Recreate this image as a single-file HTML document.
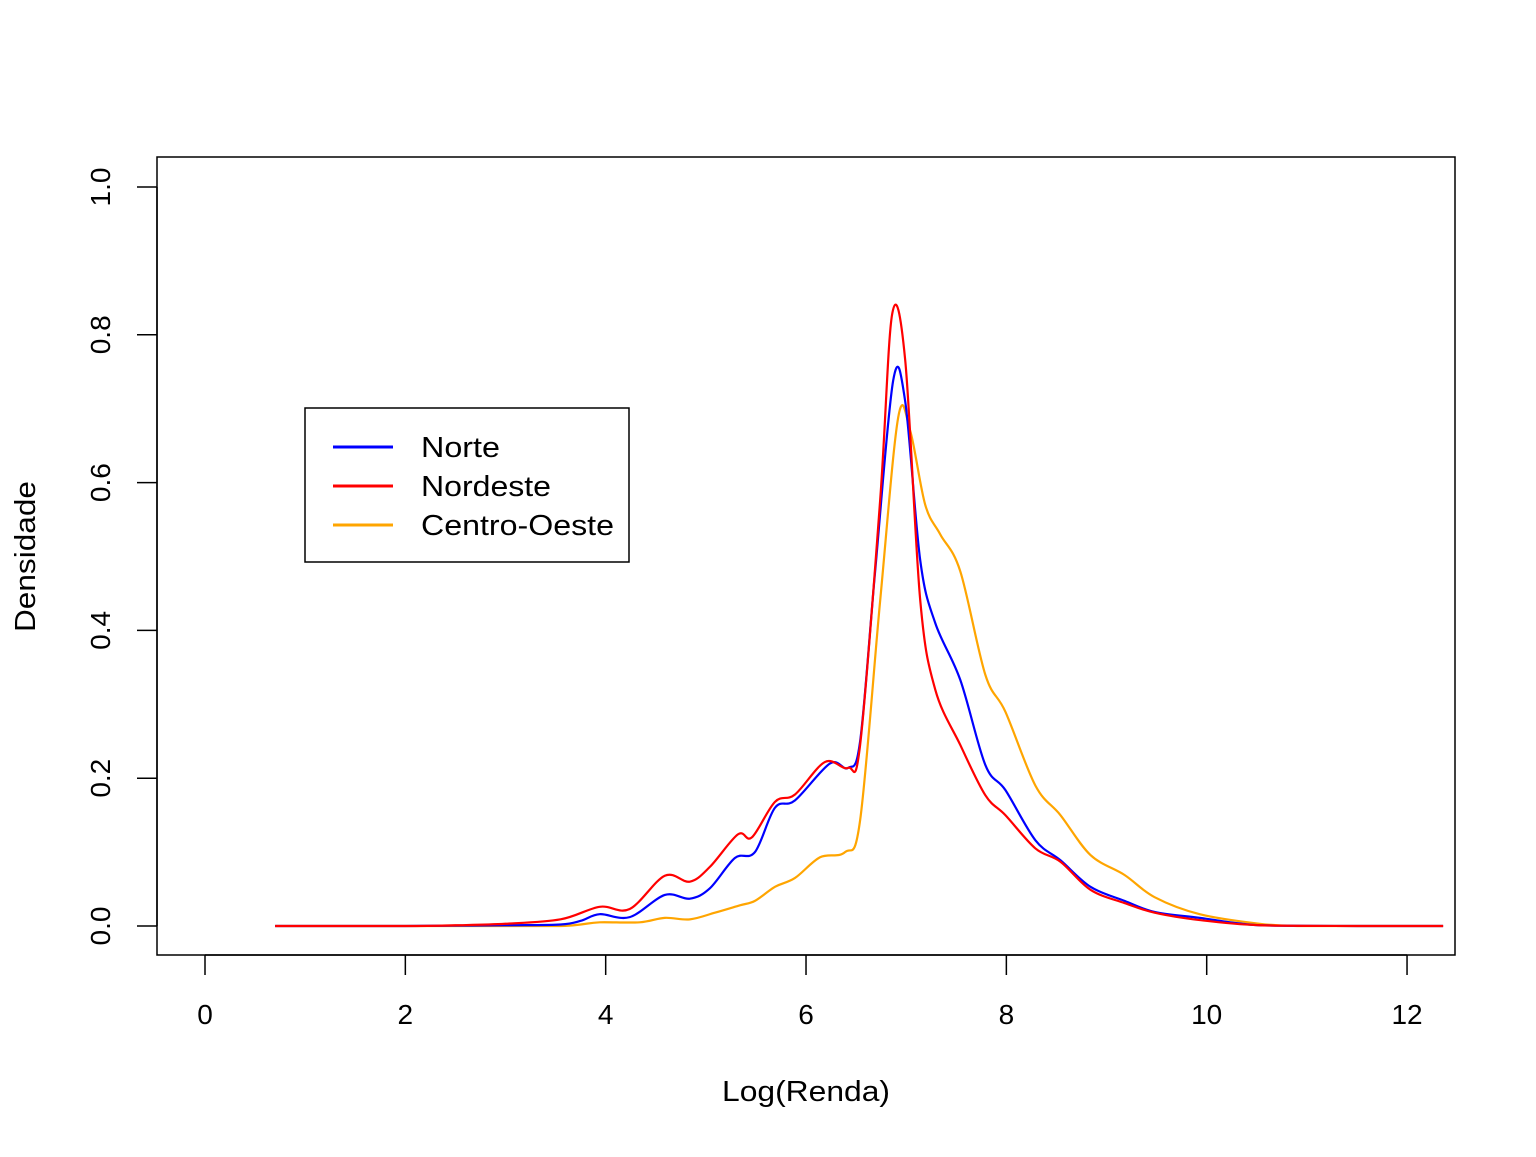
<!DOCTYPE html>
<html><head><meta charset="utf-8"><style>
body{margin:0;background:#fff}
svg text{font-family:"Liberation Sans",Arial,sans-serif;fill:#000}
</style></head><body>
<svg id="chart" width="1536" height="1152" viewBox="0 0 1536 1152" xmlns="http://www.w3.org/2000/svg">
<rect x="157" y="157" width="1298" height="798" fill="none" stroke="#000" stroke-width="1.5"/>
<g id="axes"></g>
<g id="series"></g>
<text x="722" y="1101" font-size="29" textLength="168" lengthAdjust="spacingAndGlyphs">Log(Renda)</text>
<text transform="translate(35,632) rotate(-90)" font-size="29" textLength="151" lengthAdjust="spacingAndGlyphs">Densidade</text>
<g>
<rect x="305" y="408" width="324" height="154" fill="#fff" stroke="#000" stroke-width="1.5"/>
<line x1="333" y1="447" x2="393" y2="447" stroke="#0000ff" stroke-width="3"/>
<line x1="333" y1="486" x2="393" y2="486" stroke="#ff0000" stroke-width="3"/>
<line x1="333" y1="525" x2="393" y2="525" stroke="#ffa500" stroke-width="3"/>
<text x="421" y="457" font-size="29" textLength="79" lengthAdjust="spacingAndGlyphs">Norte</text>
<text x="421" y="496" font-size="29" textLength="130" lengthAdjust="spacingAndGlyphs">Nordeste</text>
<text x="421" y="535" font-size="29" textLength="193" lengthAdjust="spacingAndGlyphs">Centro-Oeste</text>
</g>
</svg>
<script>
const xTicks=[0,2,4,6,8,10,12];
const yTicks=[0,0.2,0.4,0.6,0.8,1.0];
const yTickLabels=["0.0","0.2","0.4","0.6","0.8","1.0"];
const norteX=[0.7,2.0,3.0,3.55,3.75,3.94,4.24,4.59,4.84,5.04,5.29,5.49,5.69,5.89,6.24,6.42,6.54,6.69,6.87,6.99,7.14,7.29,7.54,7.79,7.99,8.29,8.54,8.84,9.18,9.48,9.93,10.53,11.5,12.36];
const norteY=[0,0,0.001,0.002,0.007,0.016,0.012,0.042,0.037,0.051,0.092,0.10,0.16,0.17,0.22,0.214,0.25,0.48,0.738,0.71,0.495,0.41,0.333,0.218,0.184,0.116,0.089,0.053,0.034,0.019,0.011,0.001,0,0];
const nordX=[0.7,2.0,2.5,3.0,3.55,3.94,4.24,4.59,4.84,5.04,5.32,5.46,5.69,5.89,6.19,6.42,6.54,6.74,6.86,6.99,7.14,7.29,7.54,7.79,7.99,8.29,8.54,8.84,9.18,9.48,9.93,10.53,11.5,12.36];
const nordY=[0,0,0.001,0.003,0.009,0.026,0.023,0.068,0.06,0.08,0.124,0.12,0.168,0.178,0.222,0.214,0.245,0.576,0.828,0.766,0.441,0.32,0.245,0.177,0.15,0.105,0.087,0.049,0.031,0.018,0.008,0.001,0,0];
const coX=[0.7,2.0,3.0,3.55,3.75,3.94,4.34,4.59,4.84,5.09,5.34,5.49,5.69,5.89,6.14,6.39,6.54,6.74,6.92,7.04,7.19,7.34,7.54,7.79,7.99,8.29,8.54,8.84,9.18,9.48,9.93,10.53,10.93,11.5,12.36];
const coY=[0,0,0,0,0.002,0.005,0.005,0.011,0.009,0.018,0.028,0.034,0.053,0.065,0.093,0.10,0.143,0.44,0.688,0.67,0.57,0.53,0.48,0.34,0.29,0.19,0.15,0.096,0.069,0.039,0.016,0.003,0,0,0];
const sx=v=>205+v*100.17, sy=v=>926-v*739;
const NS="http://www.w3.org/2000/svg";
const ax=document.getElementById('axes');
function mk(t,a,p){const e=document.createElementNS(NS,t);for(const k in a)e.setAttribute(k,a[k]);p.appendChild(e);return e;}
const xl=mk('line',{x1:sx(0),y1:955,x2:sx(12),y2:955,stroke:'#000','stroke-width':1.5},ax);


const yl=mk('line',{x1:157,y1:sy(0),x2:157,y2:sy(1),stroke:'#000','stroke-width':1.5},ax);


xTicks.forEach(v=>{
 const l=mk('line',{x1:sx(v),y1:955,x2:sx(v),y2:975,stroke:'#000','stroke-width':1.5},ax);
 
 
 const t=mk('text',{x:sx(v),y:1024,'font-size':28,'text-anchor':'middle'},ax);t.textContent=v;
 
 
});
yTicks.forEach((v,i)=>{
 const l=mk('line',{x1:137,y1:sy(v),x2:157,y2:sy(v),stroke:'#000','stroke-width':1.5},ax);
 
 
 const t=mk('text',{transform:`translate(110,${sy(v)}) rotate(-90)`,'font-size':28,'text-anchor':'middle'},ax);t.textContent=yTickLabels[i];
 
 
});
function path(xs,ys){
 const p=xs.map((x,i)=>[sx(x),sy(ys[i])]);
 let d=`M${p[0][0]},${p[0][1]}`;
 for(let i=0;i<p.length-1;i++){
  const p0=p[i-1]||p[i],p1=p[i],p2=p[i+1],p3=p[i+2]||p2;
  const c1=[p1[0]+(p2[0]-p0[0])/6,p1[1]+(p2[1]-p0[1])/6];
  const c2=[p2[0]-(p3[0]-p1[0])/6,p2[1]-(p3[1]-p1[1])/6];
  d+=` C${c1[0]},${Math.min(c1[1],926)} ${c2[0]},${Math.min(c2[1],926)} ${p2[0]},${p2[1]}`;
 }
 return d;
}
const sg=document.getElementById('series');
[[coX,coY,'#ffa500','series-centro-oeste'],[norteX,norteY,'#0000ff','series-norte'],[nordX,nordY,'#ff0000','series-nordeste']].forEach(s=>{
 const e=mk('path',{d:path(s[0],s[1]),fill:'none',stroke:s[2],'stroke-width':2.2},sg);
 
 
});
</script>
</body></html>
